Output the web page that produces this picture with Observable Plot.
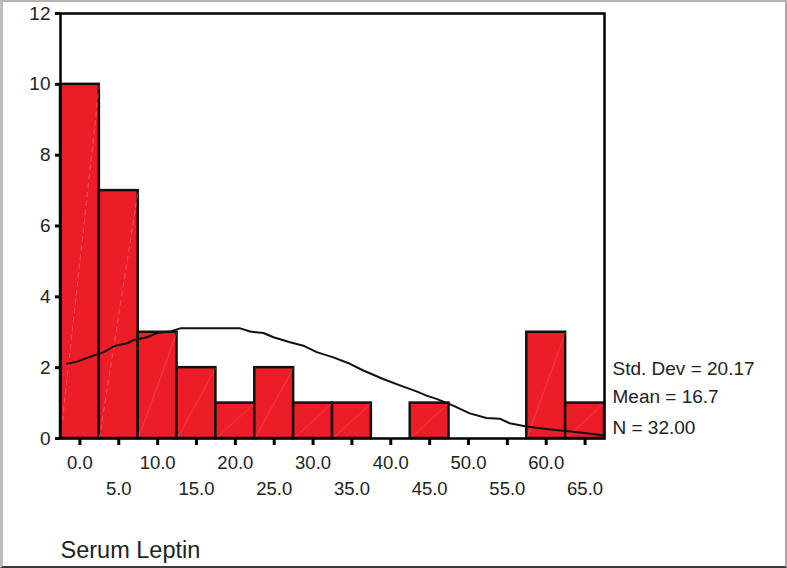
<!DOCTYPE html>
<html>
<head>
<meta charset="utf-8">
<script src="https://cdn.jsdelivr.net/npm/d3@7"></script>
<script src="https://cdn.jsdelivr.net/npm/@observablehq/plot@0.6"></script>
<style>
  html, body { margin: 0; padding: 0; background: #fff; }
  #wrap { position: relative; width: 787px; height: 568px; overflow: hidden; background: #fff; }
  #border { position: absolute; left: 0; top: 0; width: 787px; height: 568px; box-sizing: border-box;
            border-top: 2px solid #b4b4b4; border-left: 3px solid #bdbdbd; border-right: 2px solid #a8a8a8;
            border-bottom: 2px solid #3a3a3a; pointer-events: none; }
</style>
</head>
<body>
<div id="wrap"><div id="border"></div></div>
<script>
// Histogram of Serum Leptin (bin width 5, bins centred on these values)
const binCenters = [0, 5, 10, 15, 20, 25, 30, 35, 40, 45, 50, 55, 60, 65];
const binCounts  = [10, 7, 3, 2, 1, 2, 1, 1, 0, 1, 0, 0, 3, 1];
const binWidth = 5;

// Normal curve
const curveX = [-1.64, -0.36, 1.35, 3.06, 4.56, 6.07, 6.91, 8.64, 9.92, 11.63, 12.91, 20.62, 21.90, 23.61, 24.90, 27.04, 28.75, 30.47, 32.60, 34.75, 36.46, 39.02, 41.17, 43.31, 44.60, 45.88, 48.02, 50.16, 52.30, 54.01, 55.30, 57.44, 60.86, 62.58, 65.15, 67.28];
const curveY = [2.11, 2.17, 2.31, 2.44, 2.62, 2.69, 2.78, 2.86, 2.98, 3.02, 3.11, 3.11, 3.02, 2.98, 2.86, 2.72, 2.62, 2.44, 2.29, 2.11, 1.92, 1.68, 1.50, 1.33, 1.21, 1.12, 0.93, 0.71, 0.58, 0.56, 0.43, 0.34, 0.25, 0.21, 0.15, 0.09];

// Tick labels (two staggered rows) and y ticks
const ticksRow1 = [0, 10, 20, 30, 40, 50, 60];
const ticksRow2 = [5, 15, 25, 35, 45, 55, 65];
const yTicks = [0, 2, 4, 6, 8, 10, 12];

// Statistics legend and axis title
const statStd = "Std. Dev = 20.17";
const statMean = "Mean = 16.7";
const statN = "N = 32.00";
const xTitle = "Serum Leptin";

const bins = binCenters.map((c, i) => ({x1: c - binWidth / 2, x2: c + binWidth / 2, count: binCounts[i], i}));
const bars = bins.filter(d => d.count > 0);
const curve = curveX.map((x, i) => ({x, y: curveY[i]}));

const chart = Plot.plot({
  width: 787,
  height: 568,
  marginTop: 13,
  marginBottom: 130,
  marginLeft: 60,
  marginRight: 183,
  style: {fontFamily: "'Liberation Sans', Arial, sans-serif", color: "#222", background: "transparent"},
  x: {domain: [-2.5, 67.5]},
  y: {domain: [0, 12]},
  marks: [
    Plot.rect(bars, {x1: "x1", x2: "x2", y1: 0, y2: "count", fill: "#ec1d27", stroke: "#111", strokeWidth: 2.5}),
    Plot.link(bars.filter(d => d.i < 2), {x1: "x1", y1: 0, x2: "x2", y2: "count", stroke: "#ffb8bb", strokeWidth: 0.7, strokeDasharray: "5,4", strokeOpacity: 0.6}),
    Plot.link(bars.filter(d => d.i >= 2), {x1: "x1", y1: 0, x2: "x2", y2: "count", stroke: "#ff9ca1", strokeWidth: 0.6, strokeOpacity: 0.45}),
    Plot.line(curve, {x: "x", y: "y", stroke: "#111", strokeWidth: 2, curve: "linear"}),
    Plot.frame({stroke: "#000", strokeWidth: 2.5}),
    Plot.axisY(yTicks, {tickSize: 5, tickPadding: 5, strokeWidth: 3, fontSize: 19, tickFormat: d => String(d), label: null, stroke: "#000"}),
    Plot.axisX(binCenters, {tickSize: 7, strokeWidth: 3, text: null, label: null, stroke: "#000"}),
    Plot.axisX(ticksRow1, {tickSize: 0, tickPadding: 17, fontSize: 18.5, tickFormat: d => d.toFixed(1), label: null}),
    Plot.axisX(ticksRow2, {tickSize: 0, tickPadding: 43.5, fontSize: 18.5, tickFormat: d => d.toFixed(1), label: null}),
    Plot.text([statStd], {frameAnchor: "bottom-right", textAnchor: "start", lineAnchor: "middle", dx: 8, dy: -70, fontSize: 19, fill: "#222"}),
    Plot.text([statMean], {frameAnchor: "bottom-right", textAnchor: "start", lineAnchor: "middle", dx: 8, dy: -41.4, fontSize: 19, fill: "#222"}),
    Plot.text([statN], {frameAnchor: "bottom-right", textAnchor: "start", lineAnchor: "middle", dx: 8, dy: -10.8, fontSize: 19, fill: "#222"}),
    Plot.text([xTitle], {frameAnchor: "bottom-left", textAnchor: "start", lineAnchor: "middle", dx: 0, dy: 111.5, fontSize: 23.5, fill: "#222"})
  ]
});
chart.style.position = "absolute";
chart.style.left = "0";
chart.style.top = "0";
document.getElementById("wrap").insertBefore(chart, document.getElementById("border"));
</script>
</body>
</html>
